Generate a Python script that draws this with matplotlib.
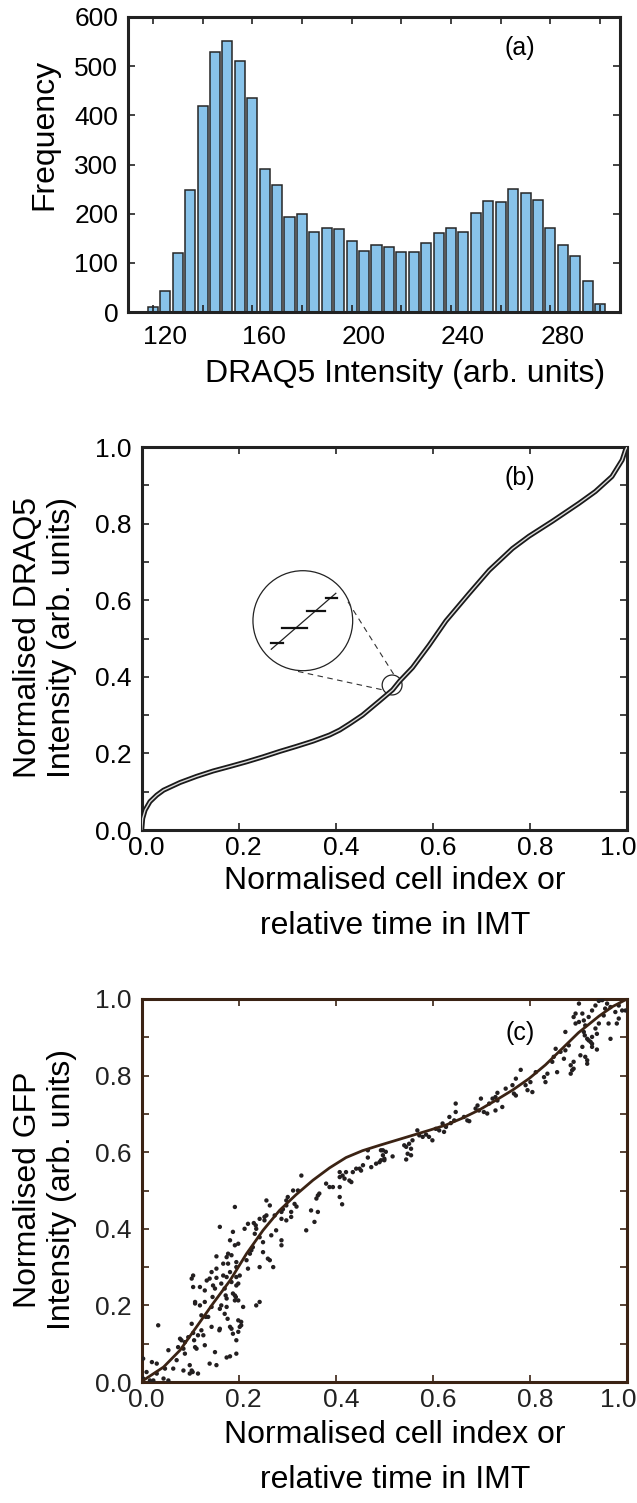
import matplotlib
matplotlib.use("Agg")
import matplotlib.pyplot as plt
from matplotlib.patches import Ellipse
from matplotlib.transforms import ScaledTranslation
import numpy as np

plt.rcParams['font.family'] = ['Liberation Sans', 'DejaVu Sans']

# (a) histogram of DRAQ5 intensity
bin_centres = np.arange(120, 301, 5)
counts = [10, 42, 121, 249, 419, 529, 552, 511, 436, 290, 258, 194, 200, 162, 171, 168,
          144, 124, 137, 133, 123, 123, 141, 160, 170, 163, 201, 226, 223, 250, 242, 227,
          170, 136, 113, 63, 16]

# (b) normalised DRAQ5 intensity vs normalised cell index
b_x = [0.0, 0.002, 0.007, 0.017, 0.031, 0.045, 0.079, 0.113, 0.147, 0.182, 0.216, 0.250,
       0.284, 0.318, 0.353, 0.387, 0.408, 0.428, 0.455, 0.490, 0.517, 0.531, 0.558, 0.572,
       0.592, 0.627, 0.675, 0.716, 0.764, 0.798, 0.846, 0.901, 0.935, 0.969, 0.990, 0.997, 1.0]
b_y = [0.0, 0.030, 0.052, 0.074, 0.091, 0.104, 0.124, 0.140, 0.154, 0.166, 0.178, 0.191,
       0.205, 0.218, 0.232, 0.248, 0.261, 0.277, 0.300, 0.337, 0.366, 0.388, 0.424, 0.448,
       0.482, 0.546, 0.618, 0.678, 0.735, 0.767, 0.806, 0.853, 0.884, 0.923, 0.966, 0.993, 1.0]

# (c) fitted curve and GFP points
c_fit_x = [0.0, 0.003, 0.045, 0.079, 0.113, 0.147, 0.182, 0.216, 0.250, 0.284, 0.318, 0.353,
           0.387, 0.421, 0.455, 0.490, 0.524, 0.558, 0.592, 0.627, 0.661, 0.695, 0.729, 0.764,
           0.798, 0.832, 0.866, 0.900, 0.942, 0.970, 1.0]
c_fit_y = [0.0, 0.004, 0.039, 0.083, 0.144, 0.205, 0.265, 0.335, 0.396, 0.448, 0.489, 0.527,
           0.559, 0.586, 0.604, 0.618, 0.631, 0.644, 0.657, 0.671, 0.689, 0.710, 0.735, 0.762,
           0.792, 0.828, 0.870, 0.912, 0.955, 0.980, 1.0]

c_pts_x = [0.466, 0.497, 0.500, 0.490, 0.483, 0.473, 0.466, 0.456, 0.452, 0.449, 0.442, 0.435,
           0.428, 0.432, 0.418, 0.421, 0.414, 0.408, 0.408, 0.408, 0.408, 0.413, 0.394, 0.380,
           0.387, 0.366, 0.363, 0.360, 0.349, 0.363, 0.356, 0.339, 0.329, 0.322, 0.315, 0.319,
           0.312, 0.301, 0.298, 0.298, 0.308, 0.308, 0.288, 0.288, 0.288, 0.288, 0.298, 0.291,
           0.274, 0.277, 0.267, 0.271, 0.264, 0.257, 0.257, 0.253, 0.264, 0.260, 0.253, 0.250,
           0.250, 0.243, 0.236, 0.233, 0.235, 0.231, 0.243, 0.243, 0.243, 0.236, 0.229, 0.226,
           0.223, 0.219, 0.212, 0.216, 0.219, 0.209, 0.205, 0.205, 0.202, 0.199, 0.199, 0.192,
           0.188, 0.192, 0.199, 0.195, 0.195, 0.195, 0.199, 0.202, 0.195, 0.188, 0.192, 0.194,
           0.192, 0.199, 0.185, 0.182, 0.185, 0.182, 0.178, 0.178, 0.175, 0.175, 0.171, 0.173,
           0.175, 0.175, 0.171, 0.177, 0.182, 0.185, 0.188, 0.195, 0.195, 0.182, 0.175, 0.168,
           0.168, 0.164, 0.164, 0.161, 0.161, 0.161, 0.160, 0.154, 0.154, 0.154, 0.151, 0.147,
           0.146, 0.144, 0.144, 0.151, 0.154, 0.140, 0.144, 0.140, 0.134, 0.130, 0.130, 0.132,
           0.137, 0.123, 0.123, 0.127, 0.130, 0.120, 0.120, 0.116, 0.116, 0.110, 0.106, 0.103,
           0.106, 0.110, 0.103, 0.106, 0.108, 0.110, 0.113, 0.103, 0.099, 0.099, 0.105, 0.096,
           0.089, 0.086, 0.089, 0.086, 0.082, 0.079, 0.075, 0.072, 0.065, 0.055, 0.048, 0.045,
           0.055, 0.034, 0.031, 0.031, 0.024, 0.021, 0.010, 0.003, 0.003, 0.017,
           0.493, 0.497, 0.493, 0.500, 0.503, 0.517, 0.541, 0.545, 0.551, 0.555, 0.548, 0.555,
           0.545, 0.558, 0.568, 0.572, 0.579, 0.586, 0.592, 0.599, 0.606, 0.613, 0.620, 0.623,
           0.627, 0.634, 0.637, 0.644, 0.647, 0.647, 0.664, 0.671, 0.675, 0.692, 0.688, 0.699,
           0.695, 0.705, 0.712, 0.716, 0.723, 0.729, 0.733, 0.733, 0.729, 0.743, 0.750, 0.764,
           0.767, 0.771, 0.771, 0.781, 0.791, 0.795, 0.805, 0.801, 0.812, 0.829, 0.832, 0.836,
           0.849, 0.846, 0.853, 0.856, 0.863, 0.870, 0.873, 0.880, 0.884, 0.887, 0.884, 0.890,
           0.890, 0.908, 0.904, 0.914, 0.918, 0.918, 0.921, 0.928, 0.928, 0.938,
           0.983, 0.990, 0.976, 0.966, 0.959, 0.955, 0.952, 0.935, 0.962, 0.966, 0.979, 0.983,
           0.942, 0.938, 0.935, 0.928, 0.925, 0.914, 0.911, 0.908, 0.901, 0.894, 0.890, 0.894,
           0.918, 0.911, 0.913, 0.901, 0.873, 0.942, 0.949, 0.928, 0.921, 0.997]
c_pts_y = [0.605, 0.605, 0.583, 0.574, 0.570, 0.561, 0.586, 0.566, 0.552, 0.557, 0.557, 0.548,
           0.526, 0.522, 0.531, 0.548, 0.539, 0.548, 0.535, 0.509, 0.483, 0.464, 0.509, 0.518,
           0.509, 0.492, 0.487, 0.479, 0.448, 0.444, 0.418, 0.396, 0.539, 0.500, 0.465, 0.458,
           0.500, 0.483, 0.474, 0.461, 0.444, 0.431, 0.426, 0.444, 0.370, 0.357, 0.422, 0.451,
           0.435, 0.396, 0.383, 0.300, 0.461, 0.474, 0.435, 0.431, 0.318, 0.322, 0.422, 0.365,
           0.339, 0.426, 0.400, 0.387, 0.409, 0.415, 0.300, 0.378, 0.209, 0.200, 0.352, 0.344,
           0.335, 0.413, 0.400, 0.318, 0.296, 0.196, 0.148, 0.157, 0.144, 0.161, 0.131, 0.457,
           0.392, 0.357, 0.361, 0.313, 0.300, 0.274, 0.257, 0.278, 0.252, 0.231, 0.226, 0.222,
           0.213, 0.213, 0.261, 0.287, 0.331, 0.370, 0.335, 0.309, 0.326, 0.274, 0.244, 0.226,
           0.218, 0.196, 0.178, 0.165, 0.144, 0.139, 0.126, 0.109, 0.074, 0.067, 0.064, 0.309,
           0.278, 0.257, 0.200, 0.405, 0.191, 0.139, 0.135, 0.328, 0.296, 0.272, 0.244, 0.252,
           0.222, 0.196, 0.144, 0.078, 0.044, 0.048, 0.287, 0.270, 0.265, 0.239, 0.209, 0.170,
           0.170, 0.174, 0.135, 0.122, 0.096, 0.200, 0.248, 0.122, 0.022, 0.205, 0.278, 0.270,
           0.248, 0.209, 0.152, 0.128, 0.109, 0.091, 0.087, 0.030, 0.044, 0.022, 0.026, 0.117,
           0.104, 0.087, 0.074, 0.030, 0.109, 0.113, 0.091, 0.057, 0.035, 0.083, 0.035, 0.009,
           0.004, 0.148, 0.048, 0.022, 0.004, 0.052, 0.026, 0.061, 0.009, 0.004,
           0.605, 0.592, 0.579, 0.579, 0.601, 0.589, 0.618, 0.614, 0.622, 0.609, 0.596, 0.592,
           0.581, 0.631, 0.657, 0.644, 0.640, 0.646, 0.640, 0.631, 0.661, 0.657, 0.675, 0.653,
           0.666, 0.692, 0.676, 0.683, 0.705, 0.727, 0.692, 0.683, 0.681, 0.722, 0.714, 0.740,
           0.709, 0.705, 0.701, 0.727, 0.740, 0.744, 0.735, 0.755, 0.709, 0.718, 0.766, 0.775,
           0.753, 0.748, 0.792, 0.815, 0.775, 0.762, 0.757, 0.783, 0.809, 0.796, 0.783, 0.805,
           0.849, 0.836, 0.870, 0.809, 0.862, 0.844, 0.866, 0.879, 0.827, 0.814, 0.805, 0.818,
           0.836, 0.875, 0.853, 0.849, 0.840, 0.831, 0.892, 0.883, 0.875, 0.868,
           0.983, 0.970, 0.966, 0.979, 0.988, 0.975, 0.957, 0.983, 0.936, 0.896, 0.936, 0.949,
           0.936, 0.909, 0.923, 0.901, 0.888, 0.931, 0.944, 0.962, 0.940, 0.936, 0.953, 0.962,
           0.896, 0.914, 0.905, 0.988, 0.914, 0.995, 0.997, 0.970, 0.953, 0.970]

W, H = 637, 1503
fig = plt.figure(figsize=(W / 100, H / 100), dpi=100)

TICK_FS = 19
LABEL_FS = 23
PANEL_FS = 18
brown = '#3b2314'


def box(l, t, r, b):
    return fig.add_axes([l / W, 1 - b / H, (r - l) / W, (b - t) / H])


def style(ax, color='#222222', xpad=4):
    for s in ax.spines.values():
        s.set_linewidth(2.2)
        s.set_color(color)
    ax.tick_params(direction='in', top=True, right=True, length=5, width=1.2,
                   labelsize=TICK_FS, color=color)
    ax.tick_params(axis='y', pad=7)
    ax.tick_params(axis='x', pad=xpad)


def shift_xlabels(ax, dx_px):
    off = ScaledTranslation(dx_px / 100, 0, fig.dpi_scale_trans)
    for lab in ax.get_xticklabels():
        lab.set_transform(lab.get_transform() + off)


def unit_axes(ax, color='#222222'):
    ax.set_xlim(0, 1)
    ax.set_ylim(0, 1)
    ax.set_xticks(np.arange(0, 1.01, 0.2))
    ax.set_yticks(np.arange(0, 1.01, 0.1))
    ax.set_yticklabels([f'{v:.1f}' if i % 2 == 0 else ''
                        for i, v in enumerate(np.arange(0, 1.01, 0.1))])
    ax.set_xticklabels([f'{v:.1f}' for v in np.arange(0, 1.01, 0.2)])
    style(ax, color, xpad=4)
    shift_xlabels(ax, 5)
    last = ax.get_xticklabels()[-1]
    last.set_ha('right')
    last.set_transform(last.get_transform() + ScaledTranslation(4 / 100, 0, fig.dpi_scale_trans))


# ---- (a)
ax1 = box(128, 17, 620, 312)
ax1.bar(bin_centres, counts, width=4.05, color='#88c3ea', edgecolor='#262626', linewidth=1.1)
ax1.set_xlim(110, 308)
ax1.set_ylim(0, 600)
ax1.set_xticks(np.arange(120, 301, 20))
ax1.set_xticklabels([str(v) if v % 40 == 0 else '' for v in range(120, 301, 20)])
ax1.set_yticks(np.arange(0, 601, 100))
style(ax1, xpad=9)
shift_xlabels(ax1, 12)
ax1.text(0.797, 0.895, '(a)', transform=ax1.transAxes, fontsize=PANEL_FS, ha='center', va='center')
fig.text(44 / W, 1 - 134 / H, 'Frequency', rotation=90, fontsize=LABEL_FS, ha='center', va='center')
fig.text(405 / W, 1 - 374 / H, 'DRAQ5 Intensity (arb. units)', fontsize=LABEL_FS,
         ha='center', va='center')

# ---- (b)
ax2 = box(141.7, 447, 627, 830)
ax2.plot(b_x, b_y, color='#1a1a1a', lw=3.6, solid_capstyle='round', solid_joinstyle='round', zorder=3)
ax2.plot(b_x, b_y, color='#dadada', lw=1.0, solid_joinstyle='round', zorder=4)
unit_axes(ax2)
ax2.text(0.78, 0.919, '(b)', transform=ax2.transAxes, fontsize=PANEL_FS, ha='center', va='center')

# zoom inset: big circle, small circle, dashed guide lines, staircase sketch
ax2.add_patch(Ellipse((0.332, 0.5465), 0.2055, 0.261, fill=False, ec='#222222', lw=0.9))
ax2.add_patch(Ellipse((0.516, 0.3786), 0.041, 0.052, fill=False, ec='#222222', lw=0.9))
ax2.plot([0.425, 0.520], [0.596, 0.405], ls=(0, (5, 4)), color='#333333', lw=0.8)
ax2.plot([0.322, 0.500], [0.414, 0.365], ls=(0, (5, 4)), color='#333333', lw=0.8)
ax2.plot([0.267, 0.400], [0.472, 0.618], color='#222222', lw=0.9)
for x0, x1, yy in [(0.267, 0.292, 0.487), (0.290, 0.341, 0.528),
                   (0.341, 0.377, 0.571), (0.379, 0.402, 0.606)]:
    ax2.plot([x0, x1], [yy, yy], color='#111111', lw=1.6)
fig.text(28 / W, 1 - 638 / H, 'Normalised DRAQ5', rotation=90, fontsize=LABEL_FS,
         ha='center', va='center')
fig.text(62 / W, 1 - 638 / H, 'Intensity (arb. units)', rotation=90, fontsize=LABEL_FS,
         ha='center', va='center')
fig.text(395 / W, 1 - 881 / H, 'Normalised cell index or', fontsize=LABEL_FS, ha='center', va='center')
fig.text(395 / W, 1 - 926 / H, 'relative time in IMT', fontsize=LABEL_FS, ha='center', va='center')

# ---- (c)
ax3 = box(141.7, 999, 627, 1382)
ax3.scatter(c_pts_x, c_pts_y, s=10, color='#231f20', edgecolors='none', zorder=3)
ax3.plot(c_fit_x, c_fit_y, color=brown, lw=2.0, solid_joinstyle='round', zorder=4)
unit_axes(ax3, brown)
ax3.tick_params(labelcolor='#222222')
ax3.text(0.78, 0.911, '(c)', transform=ax3.transAxes, fontsize=PANEL_FS, ha='center', va='center')
fig.text(28 / W, 1 - 1190 / H, 'Normalised GFP', rotation=90, fontsize=LABEL_FS,
         ha='center', va='center')
fig.text(62 / W, 1 - 1190 / H, 'Intensity (arb. units)', rotation=90, fontsize=LABEL_FS,
         ha='center', va='center')
fig.text(395 / W, 1 - 1435 / H, 'Normalised cell index or', fontsize=LABEL_FS, ha='center', va='center')
fig.text(395 / W, 1 - 1480 / H, 'relative time in IMT', fontsize=LABEL_FS, ha='center', va='center')

fig.savefig('out.png', dpi=100)
